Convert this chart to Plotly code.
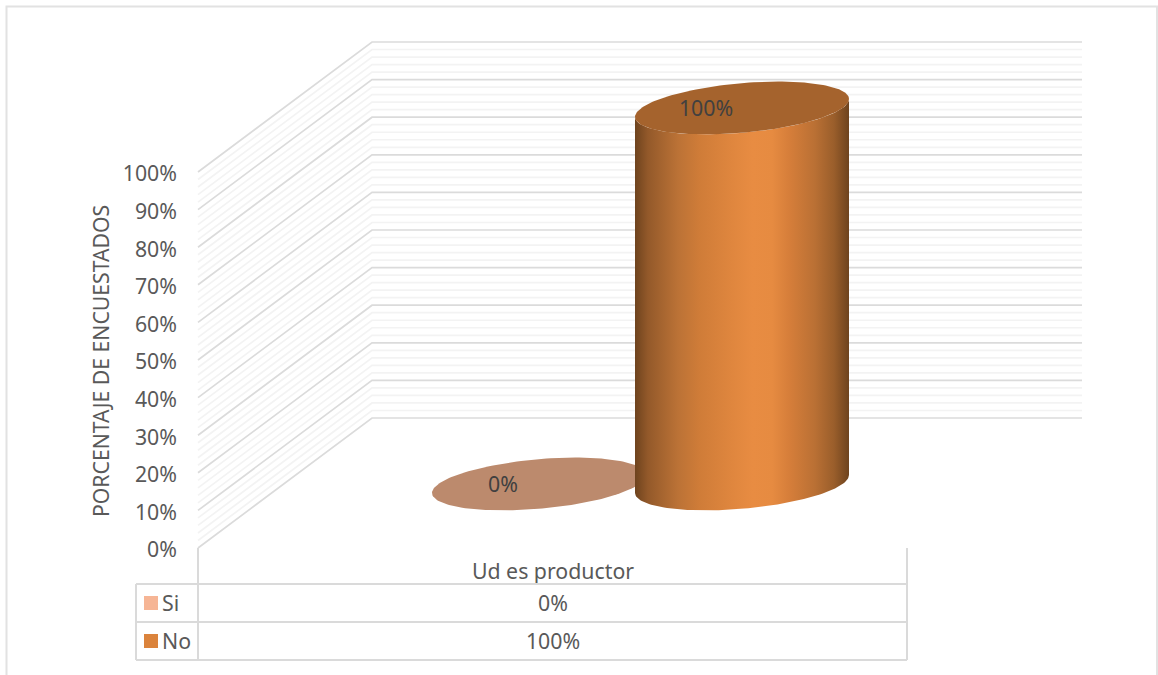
import numpy as np
import plotly.graph_objects as go

# ---- data ----
category = "Ud es productor"
series_names = ["Si", "No"]
series_values = [0, 100]
y_ticks = list(range(0, 101, 10))
y_tick_labels = [f"{v}%" for v in y_ticks]
minor_ticks = list(range(0, 101, 2))
axis_title = "PORCENTAJE DE ENCUESTADOS"

# ---- styles ----
W, H = 1158, 675
FONT = "Noto Sans, Open Sans, sans-serif"
FS = 21.3
TXT = "#595959"
swatch = ["#F6B595", "#DB833C"]
top_col = ["#BC8A6D", "#A5632D"]
body_scale = [[0, "#6E431E"], [0.06, "#93592A"], [0.2, "#BB7236"], [0.3, "#CF7C38"],
              [0.45, "#DF863E"], [0.55, "#E88C42"], [0.64, "#E68B41"], [0.72, "#D67E3A"],
              [0.84, "#BA7034"], [0.93, "#9A5E2B"], [1, "#6E431E"]]

# oblique projection of the chart box (x in px, y in percent units)
PX_PER_PCT = 3.76
Y0_PX = 548
def py(px):
    return (Y0_PX - px) / PX_PER_PCT
FRONT_X, BACK_X, END_X = 198, 372, 1082
DEPTH_PCT = py(418)
FLOOR_DEPTH = 0.4925
CENTER_X, SPREAD = 640.5, 101.5
RX, SKEW, RY = 107, 9, 24.8

fig = go.Figure()

def wall(ticks, color, width):
    xs, ys = [], []
    for v in ticks:
        xs += [FRONT_X, BACK_X, END_X, None]
        ys += [v, v + DEPTH_PCT, v + DEPTH_PCT, None]
    fig.add_trace(go.Scatter(x=xs, y=ys, mode="lines", line=dict(color=color, width=width),
                             hoverinfo="skip", showlegend=False, cliponaxis=False))

wall([t for t in minor_ticks if t not in y_ticks], "#F3F3F3", 1.7)
wall(y_ticks, "#DBDBDB", 1.7)

def ellipse(cx, level, t):
    return cx + RX * np.cos(t), level + (SKEW * np.cos(t) - RY * np.sin(t)) / PX_PER_PCT

floor = FLOOR_DEPTH * DEPTH_PCT
label_x, label_y, label_txt = [], [], []
for i, (name, val) in enumerate(zip(series_names, series_values)):
    cx = CENTER_X + (i * 2 - 1) * SPREAD
    top = floor + val
    if val > 0:
        t = np.linspace(np.pi, 0, 80)
        xa, ya = ellipse(cx, top, t)
        xb, yb = ellipse(cx, floor, t[::-1])
        fig.add_trace(go.Scatter(x=np.r_[xa, xb], y=np.r_[ya, yb], mode="lines", fill="toself",
                                 line=dict(width=0), fillgradient=dict(type="horizontal", colorscale=body_scale),
                                 hoverinfo="skip", showlegend=False))
    t = np.linspace(0, 2 * np.pi, 160)
    xe, ye = ellipse(cx, top, t)
    fig.add_trace(go.Scatter(x=xe, y=ye, mode="lines", fill="toself", fillcolor=top_col[i],
                             line=dict(width=0), name=name, hoverinfo="skip", showlegend=False))
    label_x.append(cx - 36)
    label_y.append(top - 3 / PX_PER_PCT)
    label_txt.append(f"{val}%")

fig.add_trace(go.Scatter(x=label_x, y=label_y, text=label_txt, mode="text",
                         textfont=dict(family=FONT, size=FS, color="#404040"),
                         hoverinfo="skip", showlegend=False))

# data table
TBL_L, TBL_A, TBL_R = 136, 198, 907
ROW_T, ROW_1, ROW_2 = 584, 622, 660
cell_col = "#DADADA"
shapes = [dict(type="rect", xref="paper", yref="paper", x0=6.5 / W, x1=1157 / W, y0=-0.02, y1=1 - 6.5 / H,
               line=dict(color="#E2E2E2", width=2), fillcolor="rgba(0,0,0,0)", layer="below")]
for x0, y0, x1, y1 in [(TBL_A, Y0_PX, TBL_A, ROW_2), (TBL_R, Y0_PX, TBL_R, ROW_2), (TBL_L, ROW_T, TBL_L, ROW_2),
                       (TBL_L, ROW_T, TBL_R, ROW_T), (TBL_L, ROW_1, TBL_R, ROW_1), (TBL_L, ROW_2, TBL_R, ROW_2)]:
    shapes.append(dict(type="line", xref="x", yref="y", x0=x0, x1=x1, y0=py(y0), y1=py(y1),
                       line=dict(color=cell_col, width=2)))

row_y = [py(603), py(641)]
text_y = [py(606), py(644)]
fig.add_trace(go.Scatter(x=[151, 151], y=row_y, mode="markers",
                         marker=dict(symbol="square", size=14, color=swatch, line=dict(width=0)),
                         hoverinfo="skip", showlegend=False))
fig.add_trace(go.Scatter(x=[162, 162], y=text_y, text=series_names, mode="text", textposition="middle right",
                         textfont=dict(family=FONT, size=FS, color=TXT), hoverinfo="skip", showlegend=False))
fig.add_trace(go.Scatter(x=[(TBL_A + TBL_R) / 2 + 0.5] * 3, y=[py(574)] + text_y,
                         text=[category] + [f"{v}%" for v in series_values], mode="text",
                         textfont=dict(family=FONT, size=FS, color=TXT), hoverinfo="skip", showlegend=False))

fig.update_layout(
    width=W, height=H, margin=dict(l=0, r=0, t=0, b=0), paper_bgcolor="white", plot_bgcolor="white",
    showlegend=False, shapes=shapes,
    xaxis=dict(range=[0, W], visible=False),
    yaxis=dict(range=[py(H), py(0)], anchor="free", position=FRONT_X / W, side="left",
               tickmode="array", tickvals=y_ticks, ticktext=y_tick_labels, ticks="", showgrid=False,
               zeroline=False, showline=False, ticklabelshift=2,
               ticklabelstandoff=21, tickfont=dict(family=FONT, size=FS, color=TXT)),
    annotations=[dict(text=axis_title, xref="x", yref="y", x=100, y=py(361), textangle=-90, showarrow=False,
                      font=dict(family=FONT, size=21.2, color=TXT))],
)

fig.write_html("out.html", post_script="document.body.style.margin='0';document.body.style.overflow='hidden';",
               config={"displayModeBar": False})
